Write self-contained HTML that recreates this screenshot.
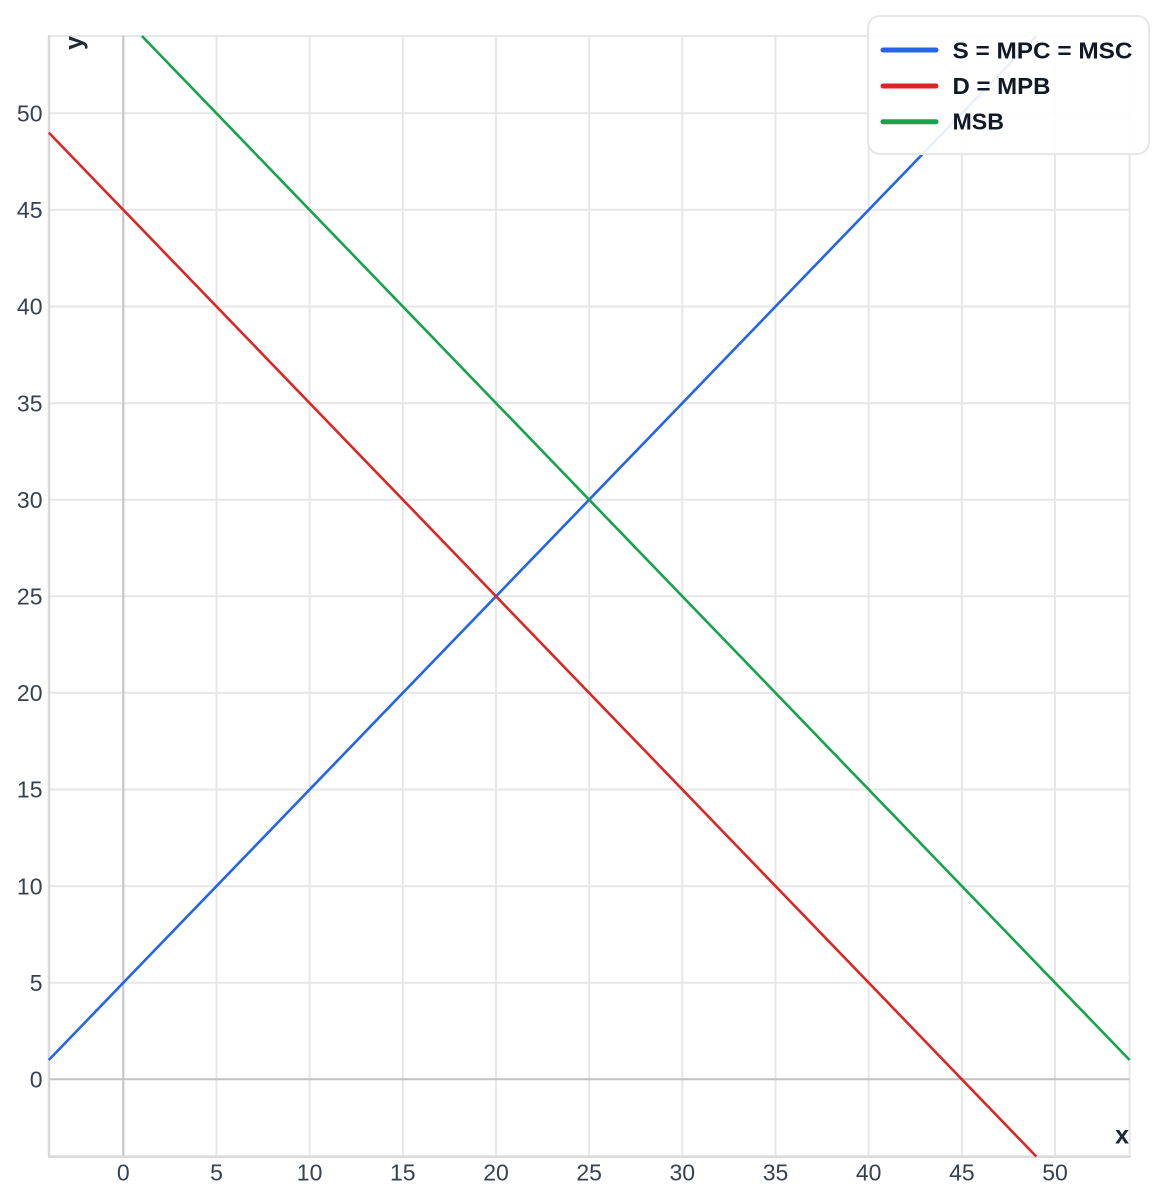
<!DOCTYPE html>
<html>
<head>
<meta charset="utf-8">
<style>
  html, body { margin: 0; padding: 0; background: #ffffff; }
  svg { display: block; }
  text { font-family: "Liberation Sans", "DejaVu Sans", sans-serif; }
</style>
</head>
<body>
<svg width="1166" height="1202" viewBox="0 0 1166 1202" xmlns="http://www.w3.org/2000/svg">
  <rect x="0" y="0" width="1166" height="1202" fill="#ffffff"/>

  <!-- grid lines -->
  <g stroke="#e7e7e9" stroke-width="2" fill="none">
    <line x1="216.5" y1="36" x2="216.5" y2="1156.6"/>
    <line x1="309.6" y1="36" x2="309.6" y2="1156.6"/>
    <line x1="402.8" y1="36" x2="402.8" y2="1156.6"/>
    <line x1="496.0" y1="36" x2="496.0" y2="1156.6"/>
    <line x1="589.2" y1="36" x2="589.2" y2="1156.6"/>
    <line x1="682.3" y1="36" x2="682.3" y2="1156.6"/>
    <line x1="775.5" y1="36" x2="775.5" y2="1156.6"/>
    <line x1="868.7" y1="36" x2="868.7" y2="1156.6"/>
    <line x1="961.9" y1="36" x2="961.9" y2="1156.6"/>
    <line x1="1055.0" y1="36" x2="1055.0" y2="1156.6"/>
    <line x1="1129.6" y1="36" x2="1129.6" y2="1156.6"/>
    <line x1="48.8" y1="982.7" x2="1129.6" y2="982.7"/>
    <line x1="48.8" y1="886.1" x2="1129.6" y2="886.1"/>
    <line x1="48.8" y1="789.5" x2="1129.6" y2="789.5"/>
    <line x1="48.8" y1="692.9" x2="1129.6" y2="692.9"/>
    <line x1="48.8" y1="596.3" x2="1129.6" y2="596.3"/>
    <line x1="48.8" y1="499.7" x2="1129.6" y2="499.7"/>
    <line x1="48.8" y1="403.1" x2="1129.6" y2="403.1"/>
    <line x1="48.8" y1="306.5" x2="1129.6" y2="306.5"/>
    <line x1="48.8" y1="209.9" x2="1129.6" y2="209.9"/>
    <line x1="48.8" y1="113.3" x2="1129.6" y2="113.3"/>
    <line x1="48.8" y1="36" x2="1129.6" y2="36"/>
  </g>

  <!-- zero lines -->
  <g stroke="#c2c2c4" stroke-width="2" fill="none">
    <line x1="123.3" y1="36" x2="123.3" y2="1156.6"/>
    <line x1="48.8" y1="1079.3" x2="1129.6" y2="1079.3"/>
  </g>

  <!-- axis frame left / bottom -->
  <g stroke="#d9d9db" stroke-width="2.5" fill="none">
    <line x1="49" y1="35" x2="49" y2="1157"/>
    <line x1="48" y1="1156.6" x2="1131" y2="1156.6"/>
  </g>

  <!-- data lines -->
  <g fill="none" stroke-width="2.6" stroke-linecap="butt">
    <line x1="48.8" y1="1060.0" x2="1036.4" y2="36" stroke="#2563eb"/>
    <line x1="48.8" y1="132.6" x2="1036.4" y2="1156.6" stroke="#dc2626"/>
    <line x1="141.9" y1="36" x2="1129.6" y2="1060.0" stroke="#16a34a"/>
  </g>

  <!-- y tick labels -->
  <g font-size="23" fill="#374151" text-anchor="end">
    <text x="42.5" y="1087.5">0</text>
    <text x="42.5" y="990.9">5</text>
    <text x="42.5" y="894.3">10</text>
    <text x="42.5" y="797.7">15</text>
    <text x="42.5" y="701.1">20</text>
    <text x="42.5" y="604.5">25</text>
    <text x="42.5" y="507.9">30</text>
    <text x="42.5" y="411.3">35</text>
    <text x="42.5" y="314.7">40</text>
    <text x="42.5" y="218.1">45</text>
    <text x="42.5" y="121.5">50</text>
  </g>

  <!-- x tick labels -->
  <g font-size="23" fill="#374151" text-anchor="middle">
    <text x="123.3" y="1180.5">0</text>
    <text x="216.5" y="1180.5">5</text>
    <text x="309.6" y="1180.5">10</text>
    <text x="402.8" y="1180.5">15</text>
    <text x="496.0" y="1180.5">20</text>
    <text x="589.2" y="1180.5">25</text>
    <text x="682.3" y="1180.5">30</text>
    <text x="775.5" y="1180.5">35</text>
    <text x="868.7" y="1180.5">40</text>
    <text x="961.9" y="1180.5">45</text>
    <text x="1055.0" y="1180.5">50</text>
  </g>

  <!-- axis titles -->
  <text x="1129" y="1143.5" font-size="25" font-weight="bold" fill="#1f2937" text-anchor="end">x</text>
  <text transform="translate(82.5,36) rotate(-90)" font-size="25" font-weight="bold" fill="#1f2937" text-anchor="end">y</text>

  <!-- legend -->
  <rect x="868" y="16" width="281" height="138" rx="12" ry="12" fill="#ffffff" fill-opacity="0.9" stroke="#e5e7eb" stroke-width="2"/>
  <g stroke-width="5" stroke-linecap="round">
    <line x1="883" y1="50" x2="936" y2="50" stroke="#2563eb"/>
    <line x1="883" y1="86" x2="936" y2="86" stroke="#dc2626"/>
    <line x1="883" y1="121.7" x2="936" y2="121.7" stroke="#16a34a"/>
  </g>
  <g font-size="23" font-weight="bold" fill="#111827">
    <text x="952.5" y="58.4" textLength="180" lengthAdjust="spacingAndGlyphs">S = MPC = MSC</text>
    <text x="952.5" y="94" textLength="98" lengthAdjust="spacingAndGlyphs">D = MPB</text>
    <text x="952.5" y="129.7" textLength="51.5" lengthAdjust="spacingAndGlyphs">MSB</text>
  </g>
</svg>
</body>
</html>
